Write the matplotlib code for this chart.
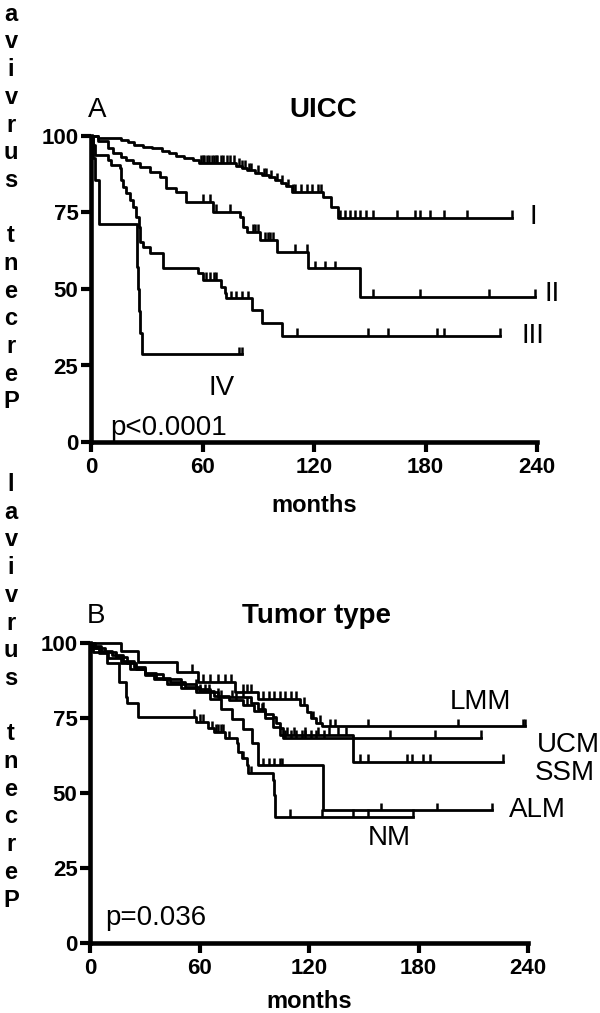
# Kaplan-Meier curves: UICC stage (A) and tumor type (B)

import numpy as np
import matplotlib
matplotlib.use("Agg")
import matplotlib.pyplot as plt

plt.rcParams['font.family'] = ['Liberation Sans', 'DejaVu Sans']

# ---------------- panel A: UICC ----------------
I_t = [0, 4, 16, 20, 23, 28, 33, 38, 42, 46, 50, 55, 58, 78, 81, 84, 88, 92, 96, 99, 102, 105, 108, 125, 129, 133]
I_s = [100, 99.5, 98.8, 98, 97.2, 96.5, 96, 95.2, 94.5, 93.5, 92.8, 92.2, 91.2, 90.3, 89.6, 88.8, 88, 87.2, 86.5, 85.5, 84.6, 83.5, 81.8, 80.2, 76.9, 73.3]
I_end = 226.6
I_cens = [59, 60, 61, 62.5, 63.5, 65, 66, 67, 68, 70, 71, 73, 75, 77, 79.5, 81, 83, 85, 86, 90, 93, 94, 97,
          100, 103, 106, 108.5, 110, 113, 116, 119, 122, 124, 134, 136.7, 139.4, 142.1, 144.8, 148.2, 151.9,
          164.6, 174.4, 177.1, 182.5, 189.7, 202.4, 226.6]

II_t = [0, 4, 9, 12, 16.3, 19, 22.5, 26.2, 31.6, 36.9, 40.6, 46, 51.3, 65.7, 80.1, 81.9, 83.7, 90.9, 99.9, 117, 144.8]
II_s = [100, 98.5, 96, 94.3, 93.2, 92.2, 91.1, 90, 88.3, 86.7, 82.9, 81.8, 78.5, 75.3, 73.6, 70.4, 68.7, 66, 62.2, 56.8, 47.5]
II_end = 239
II_cens = [60.3, 63.9, 67.5, 74.7, 87, 88.5, 90, 93.5, 95, 96.5, 98, 109.8, 116, 120.6, 125.9, 131.3, 152, 177, 214, 239]

III_t = [0, 1, 2, 9.1, 10.9, 15.4, 16.3, 17.2, 19, 20.8, 22.5, 24.4, 25.8, 26.5, 27.9, 31.6, 38.7, 57.6, 60.3,
         70.2, 72, 72.9, 86.4, 91.8, 102.6]
III_s = [100, 97, 93.8, 92.2, 90.5, 89.4, 85.6, 83.4, 81.3, 79.1, 76.9, 73.6, 70.4, 65.5, 63.8, 61.7, 56.8, 55.1, 52.9,
         50.8, 48.6, 47, 43.1, 38.8, 34.8]
III_end = 220.3
III_cens = [62, 64, 66, 67.5, 75.6, 78, 81, 84.6, 110.7, 149.3, 159.6, 186.2, 190.1, 220.3]

IV_t = [0, 1, 2, 4.5, 24.5, 25, 25.5, 26, 26.5, 27.5]
IV_s = [100, 92.9, 85.7, 71.4, 64.3, 57.1, 50, 42.9, 35.7, 28.6]
IV_end = 81
IV_cens = [79.5, 81]

stage_labels = ['I', 'II', 'III', 'IV']
stage_label_x = [238, 248, 237.6, 70.4]
stage_label_y = [73.5, 48.4, 34.6, 17.6]

# ---------------- panel B: tumor type ----------------
LMM_t = [0, 17, 26.5, 47.5, 59.3, 79.4, 92, 115, 119, 121, 124, 127]
LMM_s = [100, 97.5, 93.8, 90.4, 87.1, 83.8, 81.5, 79.5, 77, 75, 73.5, 72.3]
LMM_end = 238.2
LMM_cens = [56, 62, 66, 70, 74, 77, 84, 86, 88, 95, 98, 101, 104, 107, 110, 113, 117, 122, 126,
            131.4, 134.2, 152.4, 201.7, 237, 238.2]

UCM_t = [0, 3, 8, 14, 20, 25, 30, 35, 42, 50, 58, 70, 88, 92, 96, 100, 102, 104, 106]
UCM_s = [100, 98.5, 97, 95.5, 93.5, 91.5, 89.5, 88, 86.5, 85, 83.8, 82, 80, 78, 76.5, 75.4, 73.5, 71.6, 68.4]
UCM_end = 214.5
UCM_cens = [60, 65, 72, 78, 84, 95, 107, 110, 113, 116, 118, 121, 124, 128, 164.3, 188.9, 214.5]

SSM_t = [0, 2, 6, 12, 18, 24, 30, 36, 44, 52, 60, 68, 76, 84, 90, 96, 100, 104, 144.2]
SSM_s = [100, 99, 97.5, 96, 94, 92, 90, 88.3, 87, 85.5, 84, 82.5, 81, 79.5, 77.5, 75, 72, 69.5, 60.4]
SSM_end = 226.3
SSM_cens = [58, 63, 70, 80, 86, 94, 108, 112, 118, 125, 131, 136, 140, 147.9, 152.4, 173.8, 176.7,
            182.2, 186.2, 226.3]

ALM_t = [0, 1, 5, 10, 17, 22, 30, 40, 50, 58, 66, 72, 78, 84, 88.5, 92, 127.8]
ALM_s = [100, 98.3, 96.6, 94.9, 93.2, 91.5, 89.8, 88.1, 86.4, 84.7, 81.4, 78, 74.6, 71.2, 66.6, 59.3, 44.3]
ALM_end = 220.5
ALM_cens = [94.7, 98, 101, 104, 105.3, 159.4, 190.2, 220.5]

NM_t = [0, 1.8, 9.5, 16, 19.5, 20.5, 26.5, 58, 64.5, 68, 74, 80.3, 81.2, 83.1, 85.8, 86.7, 100.4, 100.8, 101.3]
NM_s = [100, 97.1, 93.2, 87.1, 82.1, 79.9, 75.4, 73.8, 71.6, 70.4, 68.2, 66.6, 63.8, 61.6, 59.3, 56.6, 54.3, 49.3, 42.1]
NM_end = 177
NM_cens = [57, 60, 62, 67, 69, 70, 72, 73, 76, 84, 88, 109.5, 126.9, 144.2, 152.4, 177]

type_labels = ['LMM', 'UCM', 'SSM', 'ALM', 'NM']
type_label_x = [214, 262, 260, 245, 164]
type_label_y = [80.3, 66, 56.7, 44.3, 35]

xticks = [0, 60, 120, 180, 240]
yticks = [0, 25, 50, 75, 100]
ylabel_text = 'Percent survival'


def km(ax, t, s, end, cens):
    t = np.asarray(t, float)
    s = np.asarray(s, float)
    x = np.append(t, end)
    y = np.append(s, s[-1])
    ax.step(x, y, where='post', color='black', lw=2, clip_on=False)
    c = np.asarray(cens, float)
    cy = s[np.searchsorted(t, c, side='right') - 1]
    ax.vlines(c, cy, cy + 2.5, color='black', lw=1.8, clip_on=False)


def style(ax, labelpad):
    ax.set_xlim(0, 240)
    ax.set_ylim(0, 100)
    ax.set_xticks(xticks)
    ax.set_yticks(yticks)
    ax.spines['top'].set_visible(False)
    ax.spines['right'].set_visible(False)
    ax.spines['left'].set_linewidth(3.3)
    ax.spines['bottom'].set_linewidth(3.3)
    ax.tick_params(width=3, length=7.5, labelsize=16)
    ax.tick_params(axis='x', pad=3.5)
    ax.tick_params(axis='y', pad=1.5)
    for lab in ax.get_xticklabels() + ax.get_yticklabels():
        lab.set_fontweight('bold')
    ax.set_xlabel('months', fontsize=17, fontweight='bold', labelpad=labelpad)


def stacked_label(fig, y_bottom_px, step_px):
    # letters written bottom-up, one per line, like the original
    for i, ch in enumerate(ylabel_text):
        y = y_bottom_px - i * step_px
        if y < 0:
            continue  # falls off the top of the figure, as in the original
        fig.text(11 / 600, 1 - y / 1013, ch, ha='center', va='center',
                 fontsize=17, fontweight='bold')


fig = plt.figure(figsize=(6, 10.13), dpi=100)

axA = fig.add_axes([91 / 600, 1 - 442 / 1013, 446 / 600, 306 / 1013])
for t, s, e, c in [(I_t, I_s, I_end, I_cens), (II_t, II_s, II_end, II_cens),
                   (III_t, III_s, III_end, III_cens), (IV_t, IV_s, IV_end, IV_cens)]:
    km(axA, t, s, e, c)
style(axA, 11)
for lab, x, y in zip(stage_labels, stage_label_x, stage_label_y):
    axA.text(x, y, lab, ha='center', va='center', fontsize=20, clip_on=False)
axA.text(-1.9, 106.2, 'A', fontsize=20, va='baseline', ha='left')
axA.text(125, 106.2, 'UICC', fontsize=20, fontweight='bold', va='baseline', ha='center')
axA.text(10.2, 2.3, 'p<0.0001', fontsize=20, va='baseline', ha='left')

axB = fig.add_axes([90 / 600, 1 - 943 / 1013, 438 / 600, 300 / 1013])
for t, s, e, c in [(LMM_t, LMM_s, LMM_end, LMM_cens), (UCM_t, UCM_s, UCM_end, UCM_cens),
                   (SSM_t, SSM_s, SSM_end, SSM_cens), (ALM_t, ALM_s, ALM_end, ALM_cens),
                   (NM_t, NM_s, NM_end, NM_cens)]:
    km(axB, t, s, e, c)
style(axB, 8)
for lab, x, y in zip(type_labels, type_label_x, type_label_y):
    axB.text(x, y, lab, ha='center', va='center', fontsize=20, clip_on=False)
axB.text(-1.6, 106.7, 'B', fontsize=20, va='baseline', ha='left')
axB.text(124, 106.7, 'Tumor type', fontsize=20, fontweight='bold', va='baseline', ha='center')
axB.text(8.2, 6, 'p=0.036', fontsize=20, va='baseline', ha='left')

stacked_label(fig, 402, 27.7)
stacked_label(fig, 900, 27.7)

fig.savefig('out.png', dpi=100)
